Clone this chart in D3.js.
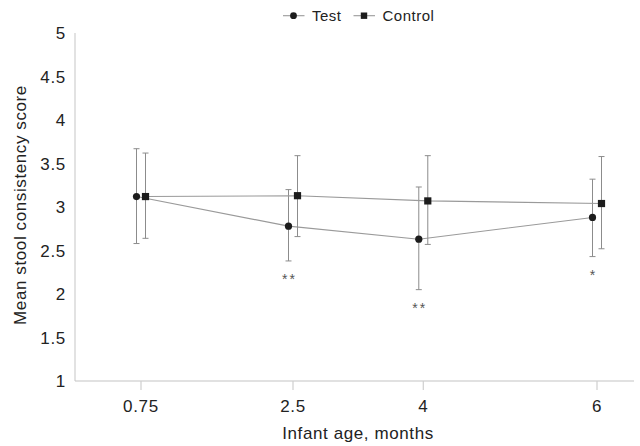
<!DOCTYPE html>
<html>
<head>
<meta charset="utf-8">
<script src="https://cdn.jsdelivr.net/npm/d3@7"></script>
<style>
	body { margin: 0; background: #fff; }
	svg text { font-family: "Liberation Sans", Arial, sans-serif; fill: #222; }
</style>
</head>
<body>
<svg id="chart" width="640" height="446"></svg>
<script>
// chart values
var ages = [0.75, 2.5, 4, 6];
var testMean = [3.12, 2.78, 2.63, 2.88];
var testLow = [2.58, 2.38, 2.05, 2.43];
var testHigh = [3.67, 3.20, 3.23, 3.32];
var controlMean = [3.12, 3.13, 3.07, 3.04];
var controlLow = [2.64, 2.66, 2.57, 2.52];
var controlHigh = [3.62, 3.59, 3.59, 3.58];
var significance = ['', '**', '**', '*'];
var yTicks = [1, 1.5, 2, 2.5, 3, 3.5, 4, 4.5, 5];
var seriesNames = ['Test', 'Control'];

(function() {

	var svg = d3.select('#chart');

	var left = 75, right = 634, top = 33, bottom = 381;
	var offset = 4.5;   // test points sit left of the tick, control points right

	var x = d3.scaleLinear().domain([0.75, 6]).range([141, 597]);
	var y = d3.scaleLinear().domain([1, 5]).range([bottom, top]);

	// axis lines
	svg.append('line')
		.attr('x1', left).attr('x2', left)
		.attr('y1', top).attr('y2', bottom)
		.attr('stroke', '#cfcfcf').attr('stroke-width', 1.2);
	svg.append('line')
		.attr('x1', left).attr('x2', right)
		.attr('y1', bottom).attr('y2', bottom)
		.attr('stroke', '#c4c4c4').attr('stroke-width', 1.2);

	// y tick labels
	svg.selectAll('.ylab').data(yTicks).enter().append('text')
		.attr('class', 'ylab')
		.attr('x', 66)
		.attr('y', function(d) { return y(d); })
		.attr('dy', '0.36em')
		.attr('text-anchor', 'end')
		.style('font-size', '17px')
		.style('letter-spacing', '0.7px')
		.text(function(d) { return d; });

	// x ticks + labels
	svg.selectAll('.xtick').data(ages).enter().append('line')
		.attr('class', 'xtick')
		.attr('x1', function(d) { return x(d); })
		.attr('x2', function(d) { return x(d); })
		.attr('y1', bottom).attr('y2', bottom + 9)
		.attr('stroke', '#cfcfcf').attr('stroke-width', 1.2);
	svg.selectAll('.xlab').data(ages).enter().append('text')
		.attr('class', 'xlab')
		.attr('x', function(d) { return x(d); })
		.attr('y', 411.5)
		.attr('text-anchor', 'middle')
		.style('font-size', '17px')
		.style('letter-spacing', '0.7px')
		.text(function(d) { return d; });

	// axis titles
	svg.append('text')
		.attr('x', 358).attr('y', 438.5)
		.attr('text-anchor', 'middle')
		.style('font-size', '17px')
		.style('letter-spacing', '0.6px')
		.text('Infant age, months');
	svg.append('text')
		.attr('transform', 'translate(26,205) rotate(-90)')
		.attr('text-anchor', 'middle')
		.style('font-size', '17px')
		.style('letter-spacing', '0.6px')
		.text('Mean stool consistency score');

	var series = [
		{ name: seriesNames[0], mean: testMean, low: testLow, high: testHigh, dx: -offset },
		{ name: seriesNames[1], mean: controlMean, low: controlLow, high: controlHigh, dx: offset }
	];

	series.forEach(function(s, si) {
		var pts = ages.map(function(a, i) {
			return { x: x(a) + s.dx, mean: s.mean[i], low: s.low[i], high: s.high[i] };
		});

		var line = d3.line()
			.x(function(d) { return d.x; })
			.y(function(d) { return y(d.mean); });
		svg.append('path')
			.datum(pts)
			.attr('d', line)
			.attr('fill', 'none')
			.attr('stroke', '#9a9a9a')
			.attr('stroke-width', 1.1);

		var bars = svg.append('g').selectAll('g').data(pts).enter().append('g');
		bars.append('line')
			.attr('x1', function(d) { return d.x; }).attr('x2', function(d) { return d.x; })
			.attr('y1', function(d) { return y(d.low); })
			.attr('y2', function(d) { return y(d.high); })
			.attr('stroke', '#8c8c8c').attr('stroke-width', 1);
		['low', 'high'].forEach(function(k) {
			bars.append('line')
				.attr('x1', function(d) { return d.x - 3; }).attr('x2', function(d) { return d.x + 3; })
				.attr('y1', function(d) { return y(d[k]); })
				.attr('y2', function(d) { return y(d[k]); })
				.attr('stroke', '#8c8c8c').attr('stroke-width', 1);
		});

		if (si === 0) {
			svg.append('g').selectAll('circle').data(pts).enter().append('circle')
				.attr('cx', function(d) { return d.x; })
				.attr('cy', function(d) { return y(d.mean); })
				.attr('r', 3.6)
				.attr('fill', '#1c1c1c');
			// significance stars under the test bars
			svg.append('g').selectAll('text').data(pts).enter().append('text')
				.attr('x', function(d) { return d.x + 1; })
				.attr('y', function(d) { return y(d.low) + 23; })
				.attr('text-anchor', 'middle')
				.style('font-size', '14px')
				.style('letter-spacing', '2px')
				.style('fill', '#555')
				.text(function(d, i) { return significance[i]; });
		} else {
			svg.append('g').selectAll('rect').data(pts).enter().append('rect')
				.attr('x', function(d) { return d.x - 3.6; })
				.attr('y', function(d) { return y(d.mean) - 3.6; })
				.attr('width', 7.2).attr('height', 7.2)
				.attr('fill', '#1c1c1c');
		}
	});

	// legend
	var legend = svg.append('g');
	var lx = [283, 353.5];
	legend.selectAll('line').data(seriesNames).enter().append('line')
		.attr('x1', function(d, i) { return lx[i]; })
		.attr('x2', function(d, i) { return lx[i] + 21.5; })
		.attr('y1', 15.7).attr('y2', 15.7)
		.attr('stroke', '#9a9a9a').attr('stroke-width', 1.1);
	legend.append('circle')
		.attr('cx', lx[0] + 10.5).attr('cy', 15.7).attr('r', 3.4)
		.attr('fill', '#1c1c1c');
	legend.append('rect')
		.attr('x', lx[1] + 10.5 - 3.2).attr('y', 15.7 - 3.2)
		.attr('width', 6.4).attr('height', 6.4)
		.attr('fill', '#1c1c1c');
	legend.selectAll('text').data(seriesNames).enter().append('text')
		.attr('x', function(d, i) { return lx[i] + 29; })
		.attr('y', 21)
		.style('font-size', '15px')
		.style('letter-spacing', '0.5px')
		.text(function(d) { return d; });

}());
</script>
</body>
</html>
